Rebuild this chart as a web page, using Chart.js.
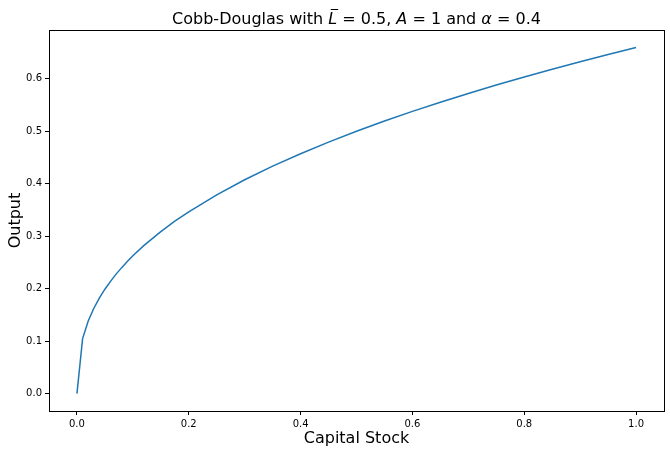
<!DOCTYPE html>
<html>
<head>
<meta charset="utf-8">
<script src="https://cdn.jsdelivr.net/npm/chart.js@4.4.1/dist/chart.umd.min.js"></script>
<style>
  html, body { margin: 0; padding: 0; background: #fff; }
  #wrap { width: 670px; height: 454px; }
</style>
</head>
<body>
<div id="wrap"><canvas id="cd" width="670" height="454"></canvas></div>
<script>
// capital stock (x) and output (y)
const capital = [0, 0.0101, 0.02, 0.03, 0.04, 0.05, 0.06, 0.07, 0.08, 0.09, 0.1, 0.12, 0.15, 0.175,
  0.2, 0.25, 0.3, 0.35, 0.4, 0.45, 0.5, 0.55, 0.6, 0.65, 0.7, 0.75, 0.8, 0.85, 0.9, 0.95, 1.0];
const output = [0, 0.1050, 0.1380, 0.1623, 0.1820, 0.1991, 0.2141, 0.2278, 0.2402, 0.2518, 0.2627, 0.2825, 0.3089, 0.3286,
  0.3466, 0.3789, 0.4076, 0.4336, 0.4573, 0.4794, 0.5000, 0.5195, 0.5379, 0.5554, 0.5720, 0.5881, 0.6034, 0.6183, 0.6326, 0.6464, 0.6598];

const xTicks = [0.0, 0.2, 0.4, 0.6, 0.8, 1.0];
const yTicks = [0.0, 0.1, 0.2, 0.3, 0.4, 0.5, 0.6];

const FONT = "'DejaVu Sans', sans-serif";

// 제목 (mathtext 처럼 이탤릭 섞어서 그림)
const titlePlugin = {
  id: 'mathTitle',
  afterDraw(chart) {
    const ctx = chart.ctx;
    const area = chart.chartArea;
    const parts = [
      { t: 'Cobb-Douglas with ', it: false },
      { t: 'L', it: true, bar: true },
      { t: ' = 0.5, ', it: false },
      { t: 'A', it: true },
      { t: ' = 1 and ', it: false },
      { t: 'α', it: true },
      { t: ' = 0.4', it: false }
    ];
    const size = 16;
    const fontOf = p => (p.it ? 'italic ' : '') + size + 'px ' + FONT;
    ctx.save();
    let total = 0;
    parts.forEach(p => { ctx.font = fontOf(p); p.w = ctx.measureText(p.t).width; total += p.w; });
    let x = (area.left + area.right) / 2 - total / 2;
    const base = 24;
    ctx.fillStyle = '#000';
    ctx.strokeStyle = '#000';
    ctx.textBaseline = 'alphabetic';
    ctx.textAlign = 'left';
    parts.forEach(p => {
      ctx.font = fontOf(p);
      ctx.fillText(p.t, x, base);
      if (p.bar) {
        ctx.lineWidth = 1;
        ctx.beginPath();
        ctx.moveTo(x + 2.5, base - 14.5);
        ctx.lineTo(x + p.w + 1, base - 14.5);
        ctx.stroke();
      }
      x += p.w;
    });
    ctx.restore();
  }
};

// 네 면 테두리
const framePlugin = {
  id: 'frame',
  afterDraw(chart) {
    const { ctx, chartArea: a } = chart;
    ctx.save();
    ctx.strokeStyle = '#000';
    ctx.lineWidth = 1;
    ctx.strokeRect(Math.round(a.left) + 0.5, Math.round(a.top) + 0.5,
      Math.round(a.right - a.left), Math.round(a.bottom - a.top));
    ctx.restore();
  }
};

new Chart(document.getElementById('cd').getContext('2d'), {
  type: 'line',
  data: {
    datasets: [{
      data: capital.map((k, i) => ({ x: k, y: output[i] })),
      borderColor: '#1f77b4',
      borderWidth: 1.5,
      pointRadius: 0,
      tension: 0,
      fill: false
    }]
  },
  options: {
    responsive: false,
    animation: false,
    devicePixelRatio: 1,
    layout: { padding: { left: 0, right: 6, top: 30, bottom: 0 } },
    plugins: { legend: { display: false }, tooltip: { enabled: false } },
    scales: {
      x: {
        type: 'linear',
        min: -0.05,
        max: 1.05,
        afterBuildTicks: s => { s.ticks = xTicks.map(v => ({ value: v })); },
        afterFit: s => { s.height = 43; },
        grid: { drawOnChartArea: false, drawTicks: true, tickLength: 4, color: '#000' },
        border: { display: true, color: '#000' },
        ticks: { color: '#000', font: { family: FONT, size: 10 }, padding: 3, maxRotation: 0,
          callback: v => v.toFixed(1) },
        title: { display: true, text: 'Capital Stock', color: '#000', font: { family: FONT, size: 16 }, padding: { top: 0, bottom: 6 } }
      },
      y: {
        type: 'linear',
        min: -0.033,
        max: 0.693,
        afterBuildTicks: s => { s.ticks = yTicks.map(v => ({ value: v })); },
        afterFit: s => { s.width = 49; },
        grid: { drawOnChartArea: false, drawTicks: true, tickLength: 4, color: '#000' },
        border: { display: true, color: '#000' },
        ticks: { color: '#000', font: { family: FONT, size: 10 }, padding: 3,
          callback: v => v.toFixed(1) },
        title: { display: true, text: 'Output', color: '#000', font: { family: FONT, size: 16 }, padding: { top: 6, bottom: 0 } }
      }
    }
  },
  plugins: [titlePlugin, framePlugin]
});
</script>
</body>
</html>
